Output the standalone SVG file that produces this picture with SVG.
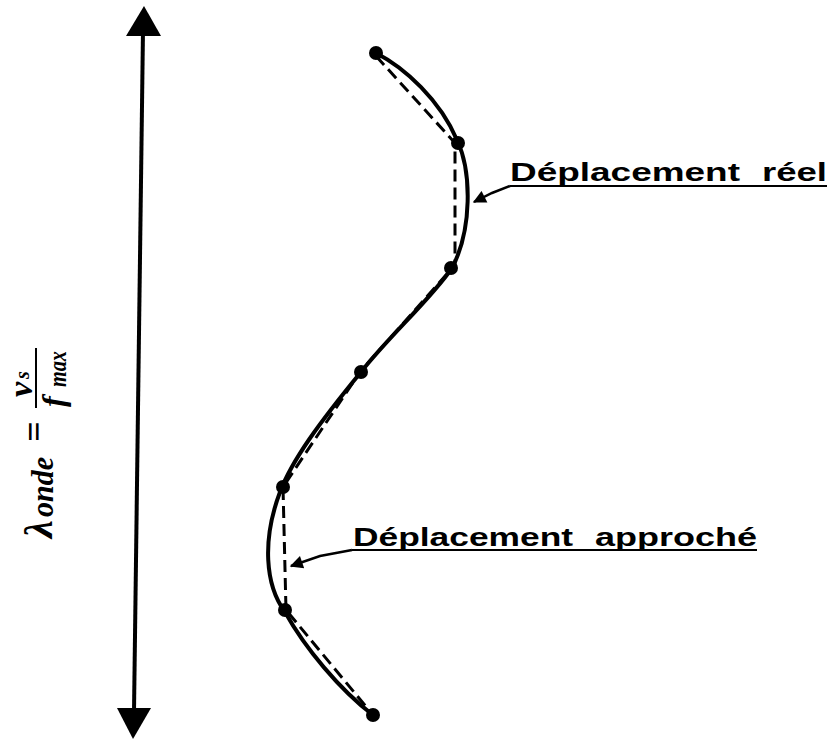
<svg xmlns="http://www.w3.org/2000/svg" width="830" height="740" viewBox="0 0 830 740">
<style>
.lbl{font-family:"Liberation Sans",Arial,sans-serif;font-weight:bold;font-size:25px;fill:#000}
.math{font-family:"Liberation Serif","Times New Roman",serif;font-style:italic;font-weight:bold;fill:#000}
.ul{stroke:#000;stroke-width:2;fill:none}
.lead{stroke:#000;stroke-width:2.5;fill:none}
.solid{stroke:#000;stroke-width:4;fill:none;stroke-linecap:round}
.dash{stroke:#000;stroke-width:3;fill:none;stroke-dasharray:12 6}
.dot{fill:#000}
</style>
<defs>
<marker id="ah" viewBox="0 0 10 10" refX="9" refY="5" markerWidth="15" markerHeight="13" markerUnits="userSpaceOnUse" orient="auto">
<path d="M0,0 L10,5 L0,10 Z" fill="#000"/>
</marker>
</defs>
<rect width="830" height="740" fill="#fff"/>

<g id="wavelength-arrow">
<line x1="143" y1="30" x2="134" y2="712" stroke="#000" stroke-width="4"/>
<polygon points="144,6 126,36 161,36" fill="#000"/>
<polygon points="133,739 117,708 151,708" fill="#000"/>
</g>

<g id="formula" transform="translate(0,540) rotate(-90)">
<text class="math" x="2" y="52" font-size="40">λ</text>
<text class="math" x="23" y="53" font-size="32" textLength="60" lengthAdjust="spacingAndGlyphs">onde</text>
<text class="math" x="98" y="46" font-size="36">=</text>
<line x1="132" y1="36" x2="192" y2="36" stroke="#000" stroke-width="2"/>
<text class="math" x="143" y="32" font-size="34">v</text>
<text class="math" x="161" y="29" font-size="20">s</text>
<text class="math" x="133" y="64" font-size="32">f</text>
<text class="math" x="153" y="66" font-size="26" textLength="36" lengthAdjust="spacingAndGlyphs">max</text>
</g>

<g id="real-path">
<path class="solid" d="M376,53 C405,68 440,100 457,140 C472,172 472,230 452,268 C430,300 390,335 361,372 C320,422 292,460 280,492 C262,540 265,585 285,612 C305,648 340,690 373,715"/>
</g>

<g id="approx-path">
<polyline class="dash" points="376,56 455,143 455,265 360,372 283,487 286,610 373,715"/>
</g>

<g id="points">
<circle class="dot" cx="376" cy="53" r="7"/>
<circle class="dot" cx="458" cy="143" r="7"/>
<circle class="dot" cx="451" cy="268" r="7"/>
<circle class="dot" cx="361" cy="372" r="7"/>
<circle class="dot" cx="283" cy="487" r="7"/>
<circle class="dot" cx="285" cy="610" r="7"/>
<circle class="dot" cx="373" cy="715" r="7"/>
</g>

<g id="label-reel">
<text class="lbl" x="510" y="181" textLength="230" lengthAdjust="spacingAndGlyphs">Déplacement</text>
<text class="lbl" x="762" y="181" textLength="65" lengthAdjust="spacingAndGlyphs">réel</text>
<line class="ul" x1="510" y1="186" x2="827" y2="186"/>
</g>

<g id="label-approche">
<text class="lbl" x="353" y="546" textLength="220" lengthAdjust="spacingAndGlyphs">Déplacement</text>
<text class="lbl" x="595" y="546" textLength="162" lengthAdjust="spacingAndGlyphs">approché</text>
<line class="ul" x1="352" y1="550" x2="757" y2="550"/>
</g>

<g id="connectors">
<path class="lead" d="M510,186 L492,193 L474,202" marker-end="url(#ah)"/>
<path class="lead" d="M352,550 L320,556 L291,566" marker-end="url(#ah)"/>
</g>
</svg>
